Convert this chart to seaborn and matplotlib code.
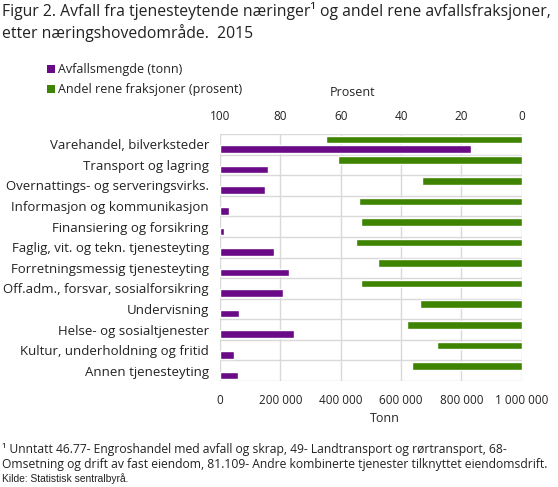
import numpy as np
import pandas as pd
import matplotlib
matplotlib.use("Agg")
import matplotlib.pyplot as plt
import seaborn as sns
from matplotlib.patches import Patch
from matplotlib.ticker import FixedLocator

# ---------------- data ----------------
categories = [
    "Varehandel, bilverksteder",
    "Transport og lagring",
    "Overnattings- og serveringsvirks.",
    "Informasjon og kommunikasjon",
    "Finansiering og forsikring",
    "Faglig, vit. og tekn. tjenesteyting",
    "Forretningsmessig tjenesteyting",
    "Off.adm., forsvar, sosialforsikring",
    "Undervisning",
    "Helse- og sosialtjenester",
    "Kultur, underholdning og fritid",
    "Annen tjenesteyting",
]
avfall_tonn = [831000, 159000, 149000, 30000, 13000, 179000,
               229000, 209000, 63000, 245000, 46000, 60000]
andel_rene_prosent = [64.9, 60.9, 33.0, 53.9, 53.3, 54.9,
                      47.6, 53.3, 33.7, 38.0, 28.1, 36.4]
series_names = ["Avfallsmengde (tonn)", "Andel rene fraksjoner (prosent)"]
tonn_ticks = [0, 200000, 400000, 600000, 800000, 1000000]
tonn_tick_labels = ["0", "200 000", "400 000", "600 000", "800 000", "1 000 000"]
prosent_ticks = [100, 80, 60, 40, 20, 0]
prosent_tick_labels = ["100", "80", "60", "40", "20", "0"]

title = ("Figur 2. Avfall fra tjenesteytende næringer\u00b9 og andel rene avfallsfraksjoner,\n"
         "etter næringshovedområde.  2015")
footnote = ("\u00b9 Unntatt 46.77- Engroshandel med avfall og skrap, 49- Landtransport og rørtransport, 68-\n"
            "Omsetning og drift av fast eiendom, 81.109- Andre kombinerte tjenester tilknyttet eiendomsdrift.")
source = "Kilde: Statistisk sentralbyrå."

PURPLE = "#6a0a86"
GREEN = "#3e8402"
GRID = "#d9d9d9"
TEXT = "#222222"

# ---------------- style ----------------
sns.set_theme(style="white")
plt.rcParams["font.family"] = ["Open Sans", "DejaVu Sans"]
plt.rcParams["text.color"] = TEXT
plt.rcParams["xtick.color"] = TEXT
plt.rcParams["ytick.color"] = TEXT

fig = plt.figure(figsize=(5.58, 4.87), dpi=100)
ax = fig.add_axes([220 / 558, 1 - 381 / 487, 301.7 / 558, 247 / 487])
ax_top = ax.twiny()

df_t = pd.DataFrame({"cat": categories, "value": avfall_tonn, "serie": series_names[0]})
df_p = pd.DataFrame({"cat": categories, "value": andel_rene_prosent, "serie": series_names[1]})
hue_order = [series_names[1], series_names[0]]
palette = {series_names[0]: PURPLE, series_names[1]: GREEN}

sns.barplot(data=df_t, y="cat", x="value", hue="serie", hue_order=hue_order,
            order=categories, palette=palette, orient="h", dodge=True,
            width=0.92, gap=0.2, saturation=1, errorbar=None, legend=False, ax=ax)
sns.barplot(data=df_p, y="cat", x="value", hue="serie", hue_order=hue_order,
            order=categories, palette=palette, orient="h", dodge=True,
            width=0.92, gap=0.2, saturation=1, errorbar=None, legend=False, ax=ax_top)

n = len(categories)
ax.set_xlim(0, 1000000)
ax_top.set_xlim(100, 0)
ax.set_ylim(n - 0.5, -0.5)

ax.set_xticks(tonn_ticks)
ax.set_xticklabels(tonn_tick_labels)
ax_top.set_xticks(prosent_ticks)
ax_top.set_xticklabels(prosent_tick_labels)

ax.yaxis.set_minor_locator(FixedLocator(np.arange(-0.5, n, 1.0)))
ax.set_axisbelow(True)
ax.grid(False)
ax_top.grid(False)
ax.grid(axis="x", which="major", color=GRID, lw=1)
ax.grid(axis="y", which="minor", color=GRID, lw=1)

for a in (ax, ax_top):
    for s in a.spines.values():
        s.set_visible(False)
    a.tick_params(which="both", length=0)

ax.tick_params(axis="y", labelsize=9.5, pad=8)
ax.tick_params(axis="x", labelsize=8.5, pad=9)
ax_top.tick_params(axis="x", labelsize=8.5, pad=8)

ax.set_ylabel("")
ax.set_xlabel("Tonn", fontsize=9)
ax.xaxis.set_label_coords(0.545, -0.15)
ax.xaxis.label.set_va("center")
ax_top.set_ylabel("")
ax_top.set_xlabel("Prosent", fontsize=9)
ax_top.xaxis.set_label_coords(0.44, 1.17)
ax_top.xaxis.label.set_va("center")

handles = [Patch(facecolor=PURPLE, edgecolor="none"), Patch(facecolor=GREEN, edgecolor="none")]
fig.legend(handles, series_names, loc="upper left", bbox_to_anchor=(47 / 558, 1 - 63 / 487),
           frameon=False, fontsize=9, borderpad=0, borderaxespad=0,
           handlelength=0.6, handleheight=0.6, handletextpad=0.3, labelspacing=0.6)

fig.text(2 / 558, 1 - 2 / 487, title, fontsize=11.3, va="top", ha="left", linespacing=1.3)
fig.text(2 / 558, 1 - 443 / 487, footnote, fontsize=8.75, va="top", ha="left", linespacing=1.2)
fig.text(2 / 558, 1 - 473 / 487, source, fontsize=7.4, va="top", ha="left",
         family=["Liberation Sans", "DejaVu Sans"])

fig.savefig("out.png", dpi=100)
